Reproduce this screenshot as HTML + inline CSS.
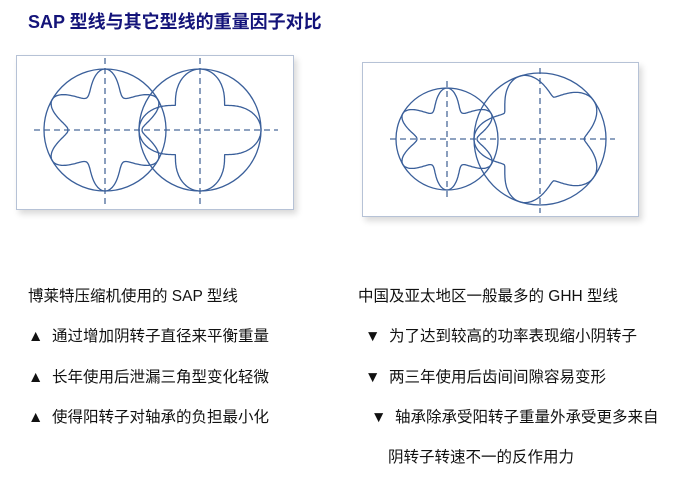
<!DOCTYPE html>
<html><head><meta charset="utf-8">
<style>
body{margin:0;width:673px;height:480px;background:#fff;position:relative;overflow:hidden;font-family:"Liberation Sans","Noto Sans CJK SC",sans-serif;}
.t{position:absolute;font-size:15.5px;color:#111;white-space:nowrap;line-height:16px;}
.title{position:absolute;left:28px;top:8px;font-size:18px;font-weight:bold;color:#14147a;white-space:nowrap;}
.frame{position:absolute;background:#fff;border:1px solid #b6c2d6;box-shadow:3px 4px 6px rgba(0,0,0,0.15);}
svg{position:absolute;left:0;top:0;}
</style></head><body>
<div class="title">SAP 型线与其它型线的重量因子对比</div>
<div class="frame" style="left:16px;top:55px;width:276px;height:153px"></div>
<div class="frame" style="left:362px;top:62px;width:275px;height:153px"></div>
<svg width="673" height="480" id="s" fill="none" stroke="#3a5f9a" stroke-width="1.3">
<g stroke-dasharray="6,4" stroke="#4a6a9a">
<line x1="34" y1="130" x2="278" y2="130"/><line x1="105" y1="58" x2="105" y2="204"/><line x1="200" y1="58" x2="200" y2="204"/>
<line x1="390" y1="139" x2="615" y2="139"/><line x1="447" y1="81" x2="447" y2="200"/><line x1="540" y1="68" x2="540" y2="213"/>
</g>
<circle cx="105" cy="130" r="61"/><circle cx="200" cy="130" r="61"/>
<circle cx="447" cy="139" r="51"/><circle cx="540" cy="139" r="66"/>
<path id="a"/><path id="b"/><path id="c"/><path id="d"/>
</svg>
<script>
function rot(id,cx,cy,R,d,n,phi,p){var s="";for(var i=0;i<=360;i++){var t=i*Math.PI/180;var g=Math.pow((1+Math.cos(n*(t-phi)))/2,p);var r=R-d*g;s+=(i?"L":"M")+(cx+r*Math.cos(t)).toFixed(1)+","+(cy+r*Math.sin(t)).toFixed(1);}document.getElementById(id).setAttribute("d",s+"Z");}
function male(id,cx,cy,R,d,n,phi,p){var s="";for(var i=0;i<=360;i++){var t=i*Math.PI/180;var g=Math.pow((1+Math.cos(n*(t-phi)))/2,p);var r=R-d+d*g;s+=(i?"L":"M")+(cx+r*Math.cos(t)).toFixed(1)+","+(cy+r*Math.sin(t)).toFixed(1);}document.getElementById(id).setAttribute("d",s+"Z");}
rot("a",105,130,61,24,6,0,1.0);
male("b",200,130,61,26,4,0,0.6);
rot("c",447,139,51,21,6,0,1.0);
male("d",540,139,66,22,5,Math.PI,0.7);
</script>
<div class="t" style="left:28px;top:289px">博莱特压缩机使用的 SAP 型线</div>
<div class="t" style="left:28px;top:329px">▲ &nbsp;通过增加阴转子直径来平衡重量</div>
<div class="t" style="left:28px;top:370px">▲ &nbsp;长年使用后泄漏三角型变化轻微</div>
<div class="t" style="left:28px;top:410px">▲ &nbsp;使得阳转子对轴承的负担最小化</div>
<div class="t" style="left:358px;top:289px">中国及亚太地区一般最多的 GHH 型线</div>
<div class="t" style="left:365px;top:329px">▼ &nbsp;为了达到较高的功率表现缩小阴转子</div>
<div class="t" style="left:365px;top:370px">▼ &nbsp;两三年使用后齿间间隙容易变形</div>
<div class="t" style="left:371px;top:410px">▼ &nbsp;轴承除承受阳转子重量外承受更多来自</div>
<div class="t" style="left:388px;top:450px">阴转子转速不一的反作用力</div>
</body></html>
